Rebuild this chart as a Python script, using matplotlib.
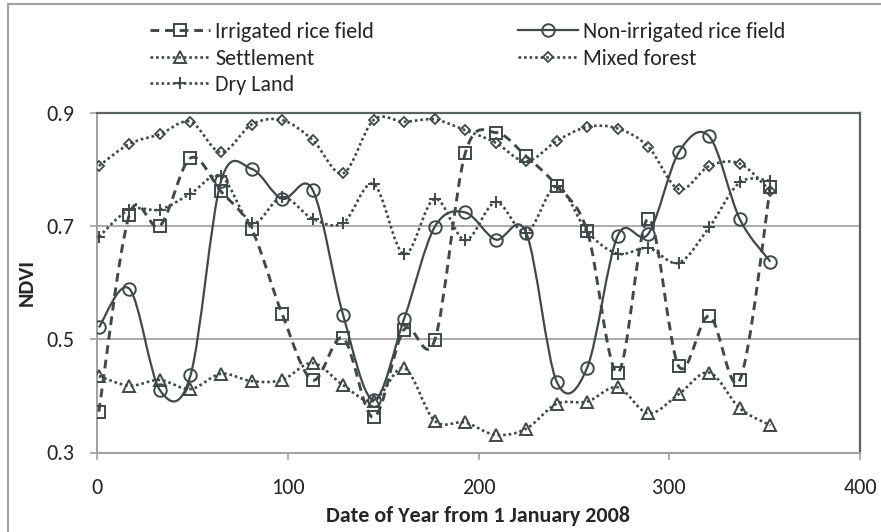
import numpy as np
import matplotlib
matplotlib.use("Agg")
import matplotlib.pyplot as plt
from matplotlib.path import Path
from matplotlib.patches import PathPatch
from matplotlib.lines import Line2D

# Day of year (composite dates, every 16 days)
doy = [1, 17, 33, 49, 65, 81, 97, 113, 129, 145, 161, 177,
       193, 209, 225, 241, 257, 273, 289, 305, 321, 337, 353]

irrigated = [0.372, 0.720, 0.700, 0.820, 0.761, 0.695, 0.545, 0.428, 0.502, 0.362, 0.517, 0.498,
             0.828, 0.865, 0.823, 0.771, 0.691, 0.441, 0.713, 0.452, 0.541, 0.428, 0.769]
non_irrigated = [0.521, 0.589, 0.410, 0.436, 0.779, 0.801, 0.748, 0.764, 0.543, 0.393, 0.536, 0.698,
                 0.724, 0.676, 0.688, 0.425, 0.450, 0.683, 0.686, 0.830, 0.858, 0.712, 0.637]
settlement = [0.435, 0.418, 0.428, 0.412, 0.439, 0.426, 0.428, 0.458, 0.419, 0.391, 0.449, 0.356,
              0.353, 0.331, 0.342, 0.386, 0.390, 0.415, 0.369, 0.403, 0.441, 0.378, 0.348]
mixed_forest = [0.806, 0.845, 0.862, 0.884, 0.830, 0.879, 0.887, 0.852, 0.793, 0.887, 0.884, 0.888,
                0.869, 0.847, 0.814, 0.850, 0.875, 0.872, 0.840, 0.765, 0.806, 0.810, 0.762]
dry_land = [0.681, 0.729, 0.729, 0.757, 0.788, 0.705, 0.751, 0.713, 0.705, 0.774, 0.650, 0.748,
            0.675, 0.742, 0.688, 0.770, 0.690, 0.651, 0.661, 0.635, 0.698, 0.777, 0.780]

x_ticks = [0, 100, 200, 300, 400]
y_ticks = [0.3, 0.5, 0.7, 0.9]

INK = "#3f4949"
TEXT = "#262626"
FONT = "Carlito"  # metric-compatible with Calibri


def smooth_path(x, y):
    # Excel-style smoothed line: Catmull-Rom segments as cubic Bezier curves
    pts = np.column_stack([x, y]).astype(float)
    verts = [pts[0]]
    codes = [Path.MOVETO]
    n = len(pts)
    for i in range(n - 1):
        p0 = pts[i - 1] if i > 0 else pts[i]
        p1 = pts[i]
        p2 = pts[i + 1]
        p3 = pts[i + 2] if i + 2 < n else pts[i + 1]
        c1 = p1 + (p2 - p0) / 6.0
        c2 = p2 - (p3 - p1) / 6.0
        verts += [c1, c2, p2]
        codes += [Path.CURVE4] * 3
    return Path(verts, codes)


def draw_series(ax, y, ls, lw, marker, ms, mew=1.4):
    patch = PathPatch(smooth_path(doy, y), facecolor="none", edgecolor=INK,
                      linewidth=lw, linestyle=ls, capstyle="butt", zorder=3)
    ax.add_patch(patch)
    ax.plot(doy, y, linestyle="none", marker=marker, markersize=ms,
            markerfacecolor="none", markeredgecolor=INK, markeredgewidth=mew, zorder=4)
    return Line2D([], [], color=INK, linewidth=lw, linestyle=ls, marker=marker,
                  markersize=ms, markerfacecolor="none", markeredgecolor=INK,
                  markeredgewidth=mew, dash_capstyle="butt")


def main():
    plt.rc("font", family=FONT, size=15.8)
    fig = plt.figure(figsize=(8.81, 5.32), dpi=100)
    ax = fig.add_axes([97 / 881, 1 - 452.5 / 532, (860 - 97) / 881, (452.5 - 112.7) / 532])

    dashed = (0, (3.0, 2.0))
    dotted = (0, (1, 1.1))
    h_irr = draw_series(ax, irrigated, dashed, 2.1, "s", 8.5)
    h_non = draw_series(ax, non_irrigated, "-", 1.6, "o", 9)
    h_set = draw_series(ax, settlement, dotted, 1.9, "^", 9)
    h_for = draw_series(ax, mixed_forest, dotted, 1.9, "D", 5.5, mew=1.3)
    h_dry = draw_series(ax, dry_land, dotted, 1.9, "+", 8.5)

    ax.set_xlim(0, 400)
    ax.set_ylim(0.3, 0.9)
    ax.set_xticks(x_ticks)
    ax.set_yticks(y_ticks)
    ax.set_xticklabels([str(t) for t in x_ticks], color=TEXT)
    ax.set_yticklabels([f"{t:.1f}" for t in y_ticks], color=TEXT)
    ax.tick_params(axis="both", direction="out", length=5, width=1.2, color="#a0a0a0")
    ax.tick_params(axis="y", pad=11)
    ax.tick_params(axis="x", pad=13)

    ax.grid(axis="y", color="#a6a6a6", linewidth=1.3, zorder=0)
    ax.set_axisbelow(True)

    for side in ["left", "bottom"]:
        ax.spines[side].set_color("#a0a0a0")
        ax.spines[side].set_linewidth(1.4)
    for side in ["top", "right"]:
        ax.spines[side].set_color("#5b6262")
        ax.spines[side].set_linewidth(1.6)

    ax.set_xlabel("Date of Year from 1 January 2008", fontweight="bold", color=TEXT, labelpad=6)
    ax.set_ylabel("NDVI", fontweight="bold", color=TEXT, labelpad=7)

    fig.legend(
        [h_irr, h_set, h_dry, h_non, h_for],
        ["Irrigated rice field", "Settlement", "Dry Land", "Non-irrigated rice field", "Mixed forest"],
        ncol=2,
        loc="upper left",
        bbox_to_anchor=(150 / 881, 1 - 22 / 532),
        frameon=False,
        handlelength=2.74,
        handletextpad=0.23,
        columnspacing=6.56,
        labelspacing=0.3,
        borderpad=0,
        borderaxespad=0,
        labelcolor=TEXT,
    )

    # outer chart border (only left and top visible in the reference)
    fig.add_artist(Line2D([7.5 / 881, 7.5 / 881], [0, 1 - 4 / 532], transform=fig.transFigure,
                          color="#a0a0a0", linewidth=1.5))
    fig.add_artist(Line2D([7.5 / 881, 1], [1 - 4 / 532, 1 - 4 / 532], transform=fig.transFigure,
                          color="#a0a0a0", linewidth=1.5))

    fig.savefig("out.png", dpi=100)


if __name__ == "__main__":
    main()
